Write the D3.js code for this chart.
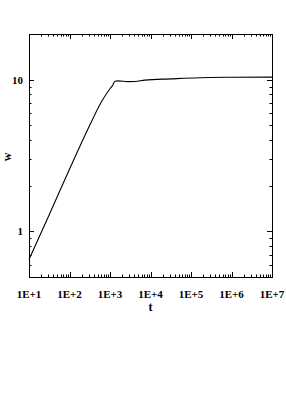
<!DOCTYPE html>
<html>
<head>
<meta charset="utf-8">
<script src="https://cdn.jsdelivr.net/npm/d3@7"></script>
<style>
body{margin:0;background:#fff;}
</style>
</head>
<body>
<svg id="chart" width="286" height="415"></svg>
<script>
// data (t, w)
var tVals=[10,31.6,100,316,631,1000,1175,1318,1585,2754,4169,7244,31623,158489,1e6,1e7];
var wVals=[0.652,1.288,2.57,5.01,7.24,8.71,9.23,9.77,9.82,9.70,9.72,9.93,10.12,10.30,10.37,10.40];
var xTicks=[1e1,1e2,1e3,1e4,1e5,1e6,1e7];
var xTickLabels=["1E+1","1E+2","1E+3","1E+4","1E+5","1E+6","1E+7"];
var yTicks=[1,10];
var yTickLabels=["1","10"];

var serif="'Liberation Serif','Times New Roman',Times,serif";
var margin={top:34,left:29,right:272,bottom:277};
var svg=d3.select("#chart");

var x=d3.scaleLog().domain([1e1,1e7]).range([margin.left,margin.right]);
var y=d3.scaleLog().domain([0.5,20]).range([margin.bottom,margin.top]);

// minor ticks, every integer multiple inside each decade
var xMinor=[];
for (var e=1;e<7;e++){ for (var k=2;k<10;k++) xMinor.push(k*Math.pow(10,e)); }
var yMinor=[];
[0.1,1,10].forEach(function(b){ for (var k=2;k<10;k++){ var v=k*b; if (v>=0.5 && v<=20 && v!=1 && v!=10) yMinor.push(v);} });

var g=svg.append("g").attr("stroke","#000").attr("stroke-width",1);
var maj=5, mn=2.5;

// bottom and top
g.selectAll(".xmaj").data(xTicks).enter().append("path")
  .attr("d",function(d){var p=Math.round(x(d))+0.5;return "M"+p+","+margin.bottom+"v"+(-maj)+"M"+p+","+margin.top+"v"+maj;});
g.selectAll(".xmin").data(xMinor).enter().append("path")
  .attr("d",function(d){var p=Math.round(x(d))+0.5;return "M"+p+","+margin.bottom+"v"+(-mn)+"M"+p+","+margin.top+"v"+mn;});
// left and right
g.selectAll(".ymaj").data(yTicks).enter().append("path")
  .attr("d",function(d){var p=Math.round(y(d))+0.5;return "M"+margin.left+","+p+"h"+maj+"M"+margin.right+","+p+"h"+(-maj);});
g.selectAll(".ymin").data(yMinor).enter().append("path")
  .attr("d",function(d){var p=Math.round(y(d))+0.5;return "M"+margin.left+","+p+"h"+mn+"M"+margin.right+","+p+"h"+(-mn);});

// frame
svg.append("rect").attr("x",margin.left+0.5).attr("y",margin.top+0.5)
  .attr("width",margin.right-margin.left).attr("height",margin.bottom-margin.top)
  .attr("fill","none").attr("stroke","#000").attr("stroke-width",1);

// tick labels
svg.selectAll(".xl").data(xTicks).enter().append("text")
  .attr("x",function(d){return x(d);}).attr("y",298)
  .attr("text-anchor","middle").attr("font-size",11)
  .attr("font-family",serif).attr("font-weight","bold")
  .text(function(d,i){return xTickLabels[i];});
svg.selectAll(".yl").data(yTicks).enter().append("text")
  .attr("x",23).attr("y",function(d){return y(d);}).attr("dy","0.35em")
  .attr("text-anchor","end").attr("font-size",11)
  .attr("font-family",serif).attr("font-weight","bold")
  .text(function(d,i){return yTickLabels[i];});

// axis titles
svg.append("text").attr("x",(margin.left+margin.right)/2).attr("y",311)
  .attr("text-anchor","middle").attr("font-size",12)
  .attr("font-family",serif).attr("font-weight","bold").text("t");
svg.append("text").attr("transform","translate(11,157) rotate(-90)")
  .attr("text-anchor","middle").attr("font-size",12)
  .attr("font-family",serif).attr("font-weight","bold").text("w");

// the curve
var line=d3.line().x(function(d){return x(d[0]);}).y(function(d){return y(d[1]);}).curve(d3.curveMonotoneX);
var pts=tVals.map(function(t,i){return [t,wVals[i]];});
svg.append("path").datum(pts).attr("d",line)
  .attr("fill","none").attr("stroke","#000").attr("stroke-width",1.1);
</script>
</body>
</html>
